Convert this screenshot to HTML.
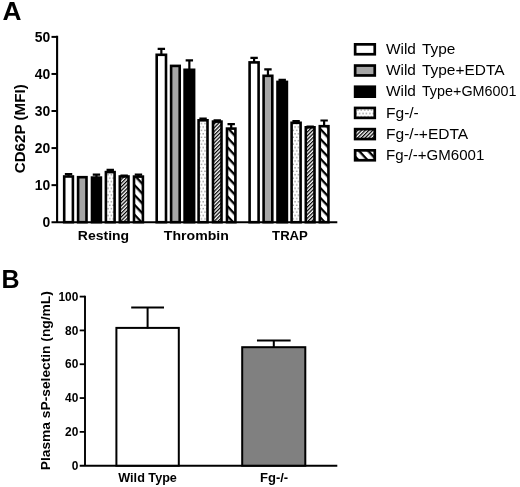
<!DOCTYPE html><html><head><meta charset="utf-8"><style>html,body{margin:0;padding:0;background:#fff}svg{display:block;filter:blur(0.35px)}svg text{font-family:"Liberation Sans",sans-serif}</style></head><body>
<svg width="520" height="487" viewBox="0 0 520 487" fill="#000">
<defs>
<pattern id="dot" width="3.4" height="6.8" patternUnits="userSpaceOnUse"><rect width="3.4" height="6.8" fill="#fff"/><rect x="0.3" y="0.6" width="1.3" height="1.3" fill="#8a8a8a"/><rect x="2.0" y="4.0" width="1.3" height="1.3" fill="#8a8a8a"/></pattern>
<pattern id="fine" width="2.65" height="2.65" patternUnits="userSpaceOnUse" patternTransform="rotate(-45)"><rect width="2.65" height="2.65" fill="#fff"/><rect width="2.65" height="1.25" fill="#000"/></pattern>
<pattern id="coarse" width="6.7" height="6.7" patternUnits="userSpaceOnUse" patternTransform="rotate(47)"><rect width="6.7" height="6.7" fill="#fff"/><rect width="6.7" height="2.3" fill="#000"/></pattern>
</defs>
<rect width="520" height="487" fill="#fff"/>
<text x="2.6" y="19.9" font-size="25" font-weight="bold" textLength="19" lengthAdjust="spacingAndGlyphs">A</text>
<rect x="64.20" y="176.50" width="8.70" height="45.70" fill="#fff" stroke="#000" stroke-width="2.6"/>
<path d="M64.85 174.10H72.25M68.55 174.10V176.20" stroke="#000" stroke-width="2.2" fill="none"/>
<rect x="78.10" y="177.20" width="8.40" height="45.00" fill="#a6a6a6" stroke="#000" stroke-width="2.6"/>
<rect x="92.00" y="177.60" width="8.90" height="44.60" fill="#000" stroke="#000" stroke-width="2.6"/>
<path d="M92.75 174.60H100.15M96.45 174.60V177.30" stroke="#000" stroke-width="2.2" fill="none"/>
<rect x="105.90" y="172.10" width="8.70" height="50.10" fill="url(#dot)" stroke="#000" stroke-width="2.6"/>
<path d="M106.55 169.90H113.95M110.25 169.90V171.80" stroke="#000" stroke-width="2.2" fill="none"/>
<rect x="119.80" y="176.50" width="8.70" height="45.70" fill="url(#fine)" stroke="#000" stroke-width="2.6"/>
<path d="M120.45 175.50H127.85M124.15 175.50V176.20" stroke="#000" stroke-width="2.2" fill="none"/>
<rect x="134.00" y="176.60" width="8.90" height="45.60" fill="url(#coarse)" stroke="#000" stroke-width="2.6"/>
<path d="M134.75 174.60H142.15M138.45 174.60V176.30" stroke="#000" stroke-width="2.2" fill="none"/>
<rect x="156.70" y="54.80" width="9.30" height="167.40" fill="#fff" stroke="#000" stroke-width="2.6"/>
<path d="M157.65 48.80H165.05M161.35 48.80V54.50" stroke="#000" stroke-width="2.2" fill="none"/>
<rect x="171.10" y="65.90" width="8.60" height="156.30" fill="#a6a6a6" stroke="#000" stroke-width="2.6"/>
<rect x="184.60" y="69.80" width="9.50" height="152.40" fill="#000" stroke="#000" stroke-width="2.6"/>
<path d="M185.65 60.30H193.05M189.35 60.30V69.50" stroke="#000" stroke-width="2.2" fill="none"/>
<rect x="198.60" y="120.30" width="8.90" height="101.90" fill="url(#dot)" stroke="#000" stroke-width="2.6"/>
<path d="M199.35 118.60H206.75M203.05 118.60V120.00" stroke="#000" stroke-width="2.2" fill="none"/>
<rect x="213.00" y="121.60" width="8.50" height="100.60" fill="url(#fine)" stroke="#000" stroke-width="2.6"/>
<path d="M213.55 120.40H220.95M217.25 120.40V121.30" stroke="#000" stroke-width="2.2" fill="none"/>
<rect x="227.00" y="128.60" width="8.40" height="93.60" fill="url(#coarse)" stroke="#000" stroke-width="2.6"/>
<path d="M227.50 124.10H234.90M231.20 124.10V128.30" stroke="#000" stroke-width="2.2" fill="none"/>
<rect x="249.60" y="62.40" width="9.00" height="159.80" fill="#fff" stroke="#000" stroke-width="2.6"/>
<path d="M250.40 57.80H257.80M254.10 57.80V62.10" stroke="#000" stroke-width="2.2" fill="none"/>
<rect x="263.60" y="75.80" width="8.70" height="146.40" fill="#a6a6a6" stroke="#000" stroke-width="2.6"/>
<path d="M264.25 69.40H271.65M267.95 69.40V75.50" stroke="#000" stroke-width="2.2" fill="none"/>
<rect x="277.50" y="81.90" width="9.40" height="140.30" fill="#000" stroke="#000" stroke-width="2.6"/>
<path d="M278.50 79.90H285.90M282.20 79.90V81.60" stroke="#000" stroke-width="2.2" fill="none"/>
<rect x="291.60" y="122.80" width="9.00" height="99.40" fill="url(#dot)" stroke="#000" stroke-width="2.6"/>
<path d="M292.40 121.20H299.80M296.10 121.20V122.50" stroke="#000" stroke-width="2.2" fill="none"/>
<rect x="305.80" y="127.30" width="8.70" height="94.90" fill="url(#fine)" stroke="#000" stroke-width="2.6"/>
<path d="M306.45 126.50H313.85M310.15 126.50V127.00" stroke="#000" stroke-width="2.2" fill="none"/>
<rect x="319.80" y="126.20" width="8.65" height="96.00" fill="url(#coarse)" stroke="#000" stroke-width="2.6"/>
<path d="M320.43 120.50H327.82M324.12 120.50V125.90" stroke="#000" stroke-width="2.2" fill="none"/>
<path d="M57.1 35.8V222.2M51.5 222.2H337.3" stroke="#000" stroke-width="2.1" fill="none"/>
<text x="50.2" y="227.00" font-size="13.9" font-weight="bold" text-anchor="end">0</text>
<path d="M51.5 185.14H57" stroke="#000" stroke-width="2.0"/>
<text x="50.2" y="189.94" font-size="13.9" font-weight="bold" text-anchor="end">10</text>
<path d="M51.5 148.08H57" stroke="#000" stroke-width="2.0"/>
<text x="50.2" y="152.88" font-size="13.9" font-weight="bold" text-anchor="end">20</text>
<path d="M51.5 111.02H57" stroke="#000" stroke-width="2.0"/>
<text x="50.2" y="115.82" font-size="13.9" font-weight="bold" text-anchor="end">30</text>
<path d="M51.5 73.96H57" stroke="#000" stroke-width="2.0"/>
<text x="50.2" y="78.76" font-size="13.9" font-weight="bold" text-anchor="end">40</text>
<path d="M51.5 36.90H57" stroke="#000" stroke-width="2.0"/>
<text x="50.2" y="41.70" font-size="13.9" font-weight="bold" text-anchor="end">50</text>
<text transform="translate(24.8 128.8) rotate(-90)" font-size="14.5" font-weight="bold" text-anchor="middle" textLength="89" lengthAdjust="spacingAndGlyphs">CD62P (MFI)</text>
<text x="103.5" y="240.2" font-size="13.5" font-weight="bold" text-anchor="middle" textLength="51.3" lengthAdjust="spacingAndGlyphs">Resting</text>
<text x="196.35" y="240.2" font-size="13.5" font-weight="bold" text-anchor="middle" textLength="65.0" lengthAdjust="spacingAndGlyphs">Thrombin</text>
<text x="290.0" y="240.2" font-size="13.5" font-weight="bold" text-anchor="middle" textLength="35.8" lengthAdjust="spacingAndGlyphs">TRAP</text>
<rect x="355.15" y="44.35" width="19.60" height="9.90" fill="#fff" stroke="#000" stroke-width="2.7"/>
<text x="386.0" y="54.10" font-size="15.4">Wild</text>
<text x="421.9" y="54.10" font-size="15.4">Type</text>
<rect x="355.15" y="65.55" width="19.60" height="9.90" fill="#a6a6a6" stroke="#000" stroke-width="2.7"/>
<text x="386.0" y="75.25" font-size="15.4">Wild</text>
<text x="421.9" y="75.25" font-size="15.4" textLength="82.6" lengthAdjust="spacingAndGlyphs">Type+EDTA</text>
<rect x="355.15" y="86.75" width="19.60" height="9.90" fill="#000" stroke="#000" stroke-width="2.7"/>
<text x="386.0" y="96.40" font-size="15.4">Wild</text>
<text x="421.9" y="96.40" font-size="15.4" textLength="94.6" lengthAdjust="spacingAndGlyphs">Type+GM6001</text>
<rect x="355.15" y="107.95" width="19.60" height="9.90" fill="url(#dot)" stroke="#000" stroke-width="2.7"/>
<text x="386.0" y="117.55" font-size="15.4" textLength="32.8" lengthAdjust="spacingAndGlyphs">Fg-/-</text>
<rect x="355.15" y="129.15" width="19.60" height="9.90" fill="url(#fine)" stroke="#000" stroke-width="2.7"/>
<text x="386.0" y="138.70" font-size="15.4" textLength="82.2" lengthAdjust="spacingAndGlyphs">Fg-/-+EDTA</text>
<rect x="355.15" y="150.35" width="19.60" height="9.90" fill="url(#coarse)" stroke="#000" stroke-width="2.7"/>
<text x="386.0" y="159.85" font-size="15.4" textLength="98.3" lengthAdjust="spacingAndGlyphs">Fg-/-+GM6001</text>
<text x="1.4" y="288.2" font-size="25" font-weight="bold">B</text>
<path d="M85 295.7V465.7M79.7 465.7H337.3" stroke="#000" stroke-width="1.9" fill="none"/>
<text x="78.3" y="469.90" font-size="11.9" font-weight="bold" text-anchor="end">0</text>
<path d="M79.7 431.88H85" stroke="#000" stroke-width="1.8"/>
<text x="78.3" y="436.08" font-size="11.9" font-weight="bold" text-anchor="end">20</text>
<path d="M79.7 398.06H85" stroke="#000" stroke-width="1.8"/>
<text x="78.3" y="402.26" font-size="11.9" font-weight="bold" text-anchor="end">40</text>
<path d="M79.7 364.24H85" stroke="#000" stroke-width="1.8"/>
<text x="78.3" y="368.44" font-size="11.9" font-weight="bold" text-anchor="end">60</text>
<path d="M79.7 330.42H85" stroke="#000" stroke-width="1.8"/>
<text x="78.3" y="334.62" font-size="11.9" font-weight="bold" text-anchor="end">80</text>
<path d="M79.7 296.60H85" stroke="#000" stroke-width="1.8"/>
<text x="78.3" y="300.80" font-size="11.9" font-weight="bold" text-anchor="end">100</text>
<text transform="translate(49.6 380.7) rotate(-90)" font-size="13.2" font-weight="bold" text-anchor="middle" textLength="179" lengthAdjust="spacingAndGlyphs">Plasma sP-selectin (ng/mL)</text>
<rect x="116.40" y="327.90" width="62.40" height="137.80" fill="#fff" stroke="#000" stroke-width="2.0"/>
<path d="M131.20 307.60H164.00M147.60 307.60V328.50" stroke="#000" stroke-width="2.0" fill="none"/>
<rect x="242.20" y="347.20" width="63.10" height="118.50" fill="#808080" stroke="#000" stroke-width="2.0"/>
<path d="M256.95 340.40H290.65M273.80 340.40V347.50" stroke="#000" stroke-width="2.0" fill="none"/>
<text x="147.6" y="482.1" font-size="12" font-weight="bold" text-anchor="middle" textLength="58.6" lengthAdjust="spacingAndGlyphs">Wild Type</text>
<text x="274.1" y="482.1" font-size="12" font-weight="bold" text-anchor="middle" textLength="28.2" lengthAdjust="spacingAndGlyphs">Fg-/-</text>
</svg></body></html>
